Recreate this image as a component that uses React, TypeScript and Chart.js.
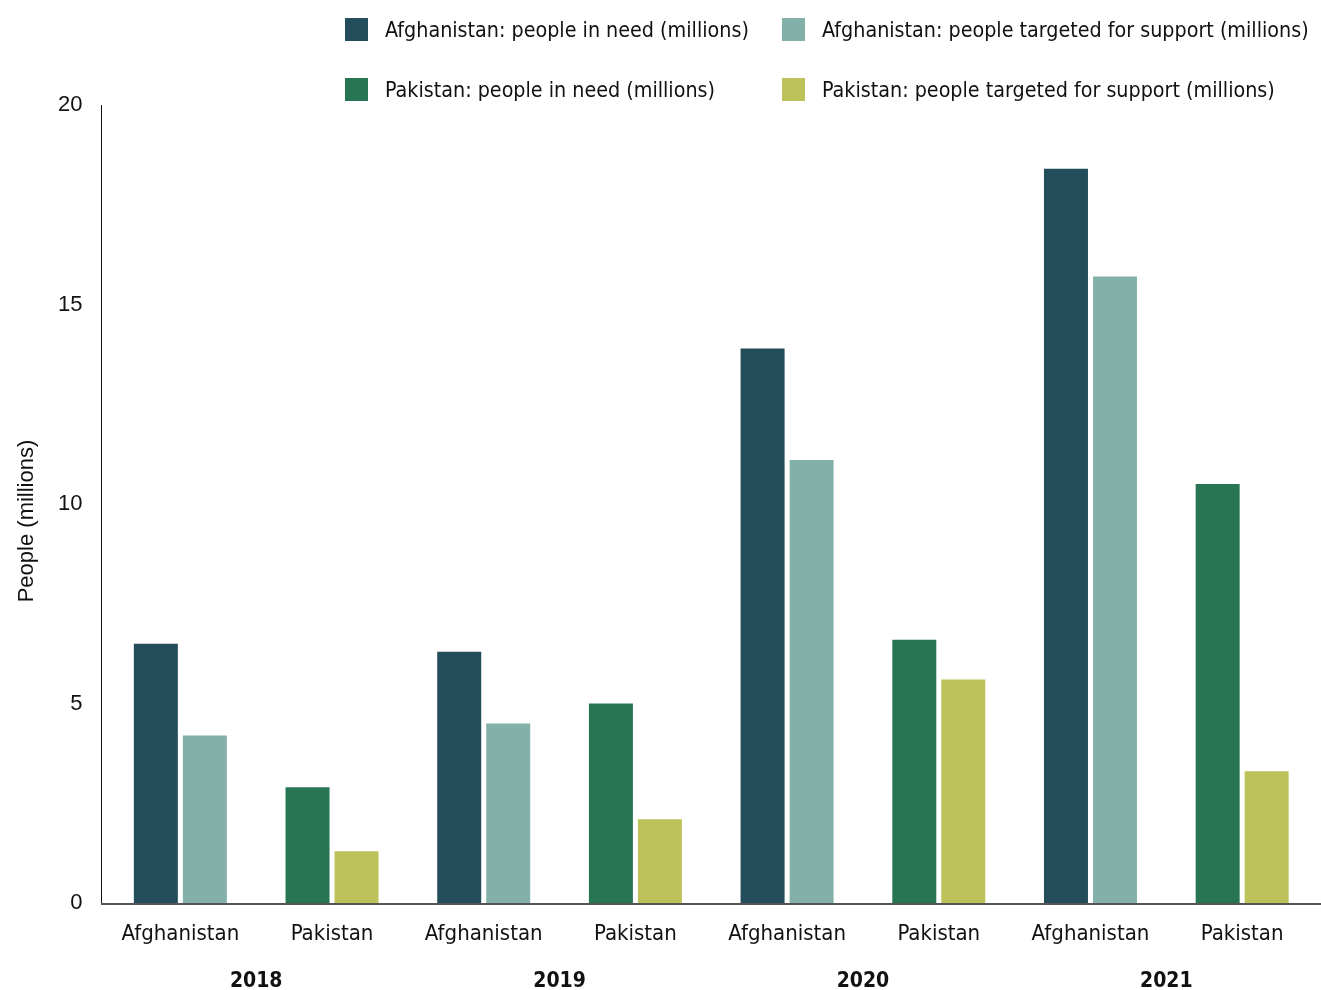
import React, { useEffect, useRef } from "react";
import { Chart, registerables } from "chart.js";

Chart.register(...registerables);

const years = ["2018", "2019", "2020", "2021"];
const countries = ["Afghanistan", "Pakistan"];
const afghanistanNeed = [6.5, 6.3, 13.9, 18.4];
const afghanistanTargeted = [4.2, 4.5, 11.1, 15.7];
const pakistanNeed = [2.9, 5.0, 6.6, 10.5];
const pakistanTargeted = [1.3, 2.1, 5.6, 3.3];
const yTicks = [0, 5, 10, 15, 20];
const yTitle = "People (millions)";

const seriesNames = [
  "Afghanistan: people in need (millions)",
  "Afghanistan: people targeted for support (millions)",
  "Pakistan: people in need (millions)",
  "Pakistan: people targeted for support (millions)",
];
const seriesColors = ["#234d5a", "#84b0aa", "#287553", "#bdc25b"];

const FONT = "'Liberation Sans Narrow', 'DejaVu Sans Condensed', 'Roboto', sans-serif";
const AXIS_FONT = "'Liberation Sans', Arial, sans-serif";

function interleave(values: number[], countryIndex: number): (number | null)[] {
  const out: (number | null)[] = [];
  values.forEach((v) => {
    countries.forEach((_, ci) => out.push(ci === countryIndex ? v : null));
  });
  return out;
}

const axisPlugin = {
  id: "axisLines",
  afterDraw(chart: any) {
    const { ctx, chartArea } = chart;
    const ext = 3.5;
    ctx.save();
    // y axis line
    ctx.strokeStyle = "#111";
    ctx.lineWidth = 1;
    ctx.beginPath();
    ctx.moveTo(chartArea.left - ext + 0.5, chartArea.top);
    ctx.lineTo(chartArea.left - ext + 0.5, chartArea.bottom);
    ctx.stroke();
    // x axis line
    ctx.strokeStyle = "#555";
    ctx.lineWidth = 2;
    ctx.beginPath();
    ctx.moveTo(chartArea.left - ext, chartArea.bottom + 1);
    ctx.lineTo(chartArea.right + ext, chartArea.bottom + 1);
    ctx.stroke();
    // y title
    ctx.fillStyle = "#111";
    ctx.font = `22px ${AXIS_FONT}`;
    ctx.textAlign = "center";
    ctx.textBaseline = "middle";
    ctx.translate(chartArea.left - 77.5, (chartArea.top + chartArea.bottom) / 2 + 17);
    ctx.rotate(-Math.PI / 2);
    ctx.fillText(yTitle, 0, 0);
    ctx.restore();
  },
};

export default function App() {
  const ref = useRef<HTMLCanvasElement | null>(null);

  useEffect(() => {
    document.body.style.margin = "0";
    const labels: string[] = [];
    years.forEach(() => countries.forEach((c) => labels.push(c)));
    const seriesData = [
      interleave(afghanistanNeed, 0),
      interleave(afghanistanTargeted, 0),
      interleave(pakistanNeed, 1),
      interleave(pakistanTargeted, 1),
    ];
    const chart = new Chart(ref.current as HTMLCanvasElement, {
      type: "bar",
      data: {
        labels,
        datasets: seriesNames.map((name, i) => ({
          label: name,
          data: seriesData[i],
          backgroundColor: seriesColors[i],
          borderWidth: 0,
          categoryPercentage: 0.646,
          barPercentage: 0.898,
          xAxisID: "x",
        })),
      },
      options: {
        animation: false,
        responsive: false,
        skipNull: true,
        layout: { padding: { top: 105, right: 3, bottom: 0, left: 0 } },
        plugins: {
          legend: { display: false },
          tooltip: { enabled: false },
        },
        scales: {
          x: {
            type: "category",
            position: "bottom",
            grid: { display: false, drawTicks: false },
            border: { display: false },
            ticks: {
              color: "#111",
              font: { family: FONT, size: 22 },
              padding: 18,
              maxRotation: 0,
              autoSkip: false,
            },
            afterFit: (s: any) => {
              s.height = 48;
            },
          },
          x2: {
            type: "category",
            position: "bottom",
            labels: years,
            offset: true,
            grid: { display: false, drawTicks: false },
            border: { display: false },
            ticks: {
              color: "#111",
              font: { family: FONT, size: 21, weight: "bold" },
              padding: 18,
              maxRotation: 0,
              autoSkip: false,
            },
            afterFit: (s: any) => {
              s.height = 39;
            },
          },
          y: {
            min: 0,
            max: 20,
            afterBuildTicks: (s: any) => {
              s.ticks = yTicks.map((v) => ({ value: v }));
            },
            grid: { display: false, drawTicks: false },
            border: { display: false },
            ticks: {
              color: "#111",
              font: { family: AXIS_FONT, size: 22 },
              padding: 22,
            },
            afterFit: (s: any) => {
              s.width = 104.5;
            },
          },
        },
      } as any,
      plugins: [axisPlugin],
    });
    return () => chart.destroy();
  }, []);

  const legendPos = [
    { x: 345, y: 29 },
    { x: 782, y: 29 },
    { x: 345, y: 89 },
    { x: 782, y: 89 },
  ];

  return (
    <div style={{ position: "relative", width: 1321, height: 990, background: "#fff" }}>
      <canvas ref={ref} width={1321} height={990} style={{ display: "block" }} />
      {seriesNames.map((name, i) => (
        <div
          key={name}
          style={{
            position: "absolute",
            left: legendPos[i].x,
            top: legendPos[i].y - 15,
            height: 30,
            display: "flex",
            alignItems: "center",
            whiteSpace: "nowrap",
            fontFamily: FONT,
            fontSize: 21.3,
            color: "#111",
          }}
        >
          <span
            style={{
              display: "inline-block",
              width: 23,
              height: 23,
              background: seriesColors[i],
              marginRight: 17,
            }}
          />
          <span>{name}</span>
        </div>
      ))}
    </div>
  );
}
